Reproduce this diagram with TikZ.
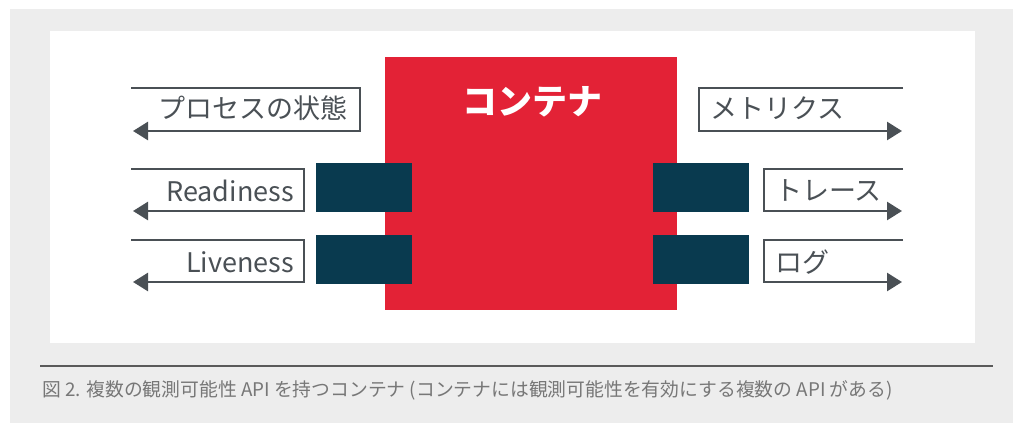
\documentclass[tikz,border=0pt]{standalone}
\usepackage{fontspec}
\setmainfont{Noto Sans CJK JP}
\usetikzlibrary{arrows.meta}
\definecolor{panel}{HTML}{EDEDED}
\definecolor{cred}{HTML}{E32236}
\definecolor{port}{HTML}{093A4F}
\definecolor{wire}{HTML}{4A5055}
\definecolor{rulec}{HTML}{5A5A5A}
\definecolor{captxt}{HTML}{777777}
\begin{document}
\begin{tikzpicture}[x=1pt,y=-1pt,
  wirepath/.style={draw=wire, line width=2.6pt, -{Triangle[length=15pt,width=18pt]}, line join=miter},
  lbl/.style={inner sep=0, text=wire, font=\fontsize{27}{30}\selectfont},
  portbox/.style={fill=port, draw=none, inner sep=0, minimum width=96pt, minimum height=49pt, anchor=north west}]
\useasboundingbox (0,0) rectangle (1013,423);
\fill[panel] (10,9) rectangle (1013,423);
\fill[white] (50,31) rectangle (975,343);
% container
\node[fill=cred, inner sep=0, minimum width=292pt, minimum height=253pt, anchor=north west] (box) at (385,57) {};
\node[text=white, inner sep=0, font=\fontsize{35}{40}\selectfont\bfseries] (title) at (532,102) {コンテナ};
% ports
\node[portbox] (pl1) at (316,163) {};
\node[portbox] (pl2) at (316,235) {};
\node[portbox] (pr1) at (653,163) {};
\node[portbox] (pr2) at (653,235) {};
% left outputs
\coordinate (a1) at (131,88);  \coordinate (b1) at (360,88);  \coordinate (c1) at (360,131); \coordinate (t1) at (133,131);
\coordinate (a2) at (131,169); \coordinate (b2) at (304,169); \coordinate (c2) at (304,211); \coordinate (t2) at (133,211);
\coordinate (a3) at (131,240); \coordinate (b3) at (304,240); \coordinate (c3) at (304,282); \coordinate (t3) at (133,282);
\draw[wirepath] (a1) -- (b1) -- (c1) -- (t1);
\draw[wirepath] (a2) -- (b2) -- (c2) -- (t2);
\draw[wirepath] (a3) -- (b3) -- (c3) -- (t3);
\node[lbl, anchor=east] (proc) at (348,108) {プロセスの状態};
\node[lbl, anchor=east] (ready) at (294,191) {Readiness};
\node[lbl, anchor=east] (live) at (294,262) {Liveness};
% right outputs
\coordinate (d1) at (903,88);  \coordinate (e1) at (699,88);  \coordinate (f1) at (699,131); \coordinate (s1) at (902,131);
\coordinate (d2) at (903,169); \coordinate (e2) at (764,169); \coordinate (f2) at (764,211); \coordinate (s2) at (902,211);
\coordinate (d3) at (903,240); \coordinate (e3) at (764,240); \coordinate (f3) at (764,282); \coordinate (s3) at (902,282);
\draw[wirepath] (d1) -- (e1) -- (f1) -- (s1);
\draw[wirepath] (d2) -- (e2) -- (f2) -- (s2);
\draw[wirepath] (d3) -- (e3) -- (f3) -- (s3);
\node[lbl, anchor=west] (metr) at (710,108) {メトリクス};
\node[lbl, anchor=west] (trace) at (775,190) {トレース};
\node[lbl, anchor=west] (logs) at (775,262) {ログ};
% caption
\coordinate (r1) at (40,366); \coordinate (r2) at (993,366);
\draw[rulec, line width=1.5pt] (r1) -- (r2);
\node[anchor=west, inner sep=0, text=captxt, font=\fontsize{18.8}{21}\selectfont] (cap) at (42,390) {図 2. 複数の観測可能性 API を持つコンテナ (コンテナには観測可能性を有効にする複数の API がある)};
\end{tikzpicture}
\end{document}
